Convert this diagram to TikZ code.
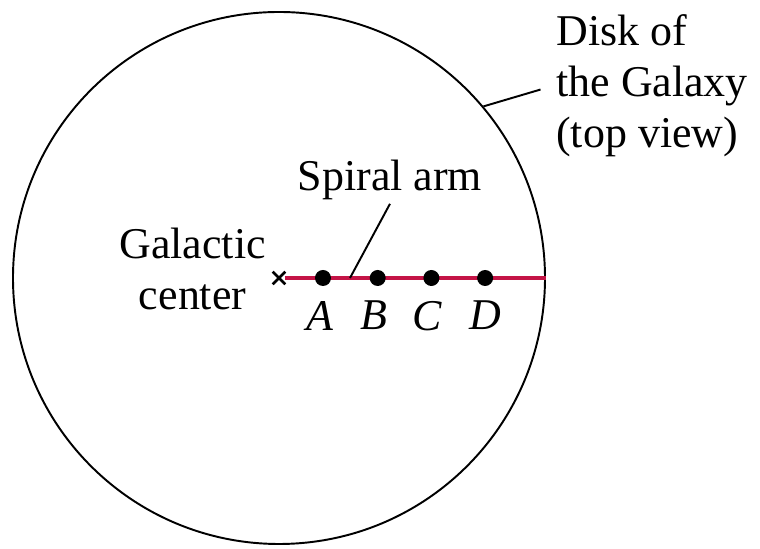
\documentclass[tikz,border=0pt]{standalone}
\usepackage{fontspec}
\setmainfont{Liberation Serif}
\usetikzlibrary{positioning,shapes.misc}
\definecolor{armred}{RGB}{196,20,70}

\begin{document}
\begin{tikzpicture}[
  every node/.style={font=\fontsize{25}{29}\selectfont, inner sep=2pt},
  disk/.style={draw, circle, line width=1.1pt, minimum size=10.64cm, inner sep=0},
  star/.style={circle, fill=black, minimum size=0.32cm, inner sep=0},
  lead/.style={line width=1.1pt},
  armline/.style={draw=armred, line width=2.6pt}
]
\useasboundingbox (-5.58,-5.42) rectangle (9.62,5.56);

%% Disk and centre
\node[disk] (disk) at (0,0) {};
\node[draw, cross out, line width=1.5pt, minimum size=0.2cm, inner sep=0] (gc) at (0,0) {};

%% Spiral arm
\draw[armline] (gc.east) -- (disk.east);
\coordinate (armpt) at (1.42,0);

\node[star]                       (sA) at (0.88,0) {};
\node[star, right=0.76cm of sA]   (sB) {};
\node[star, right=0.74cm of sB]   (sC) {};
\node[star, right=0.74cm of sC]   (sD) {};

\node[below=0.22cm of sA, xshift=-0.06cm] (lA) {\textit{A}};
\node[below=0.22cm of sB, xshift=-0.08cm] (lB) {\textit{B}};
\node[below=0.22cm of sC, xshift=-0.08cm] (lC) {\textit{C}};
\node[below=0.22cm of sD]                 (lD) {\textit{D}};

%% Labels
\node (armlbl) at (2.22,1.96) {Spiral arm};
\draw[lead] (armpt) -- (armlbl.south);

\node[align=center, left=0.06cm of gc, yshift=0.18cm] (gclbl) {Galactic\\center};

\node[align=left, anchor=west] (disklbl) at (5.47,3.84) {Disk of\\the Galaxy\\(top view)};
\draw[lead, shorten >=0.25cm] (disk.40) -- (disklbl.west);
\end{tikzpicture}
\end{document}
